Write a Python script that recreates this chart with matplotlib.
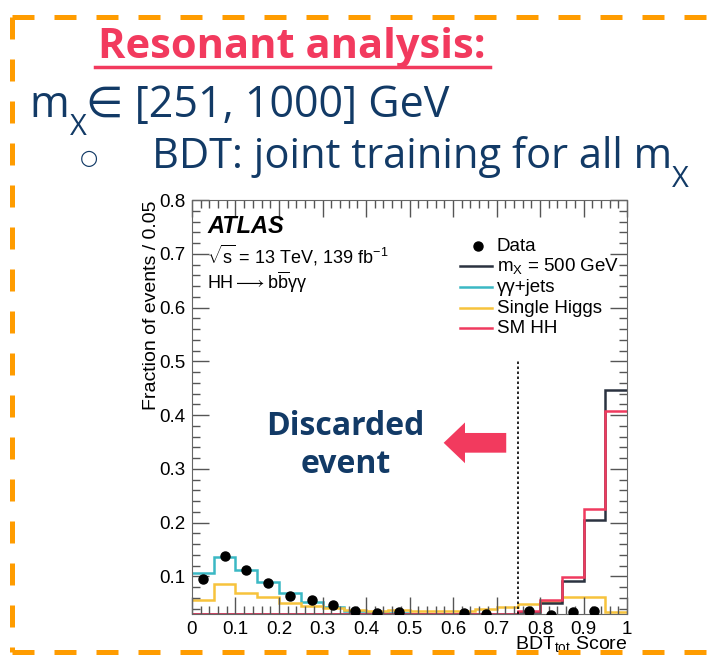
import numpy as np
import matplotlib
matplotlib.use('Agg')
import matplotlib.pyplot as plt
from matplotlib.patches import FancyArrow
from matplotlib.ticker import MultipleLocator

plt.rcParams['mathtext.fontset'] = 'custom'
plt.rcParams['mathtext.rm'] = 'Liberation Sans'
plt.rcParams['mathtext.it'] = 'Liberation Sans:italic'
plt.rcParams['mathtext.bf'] = 'Liberation Sans:bold'

# ---------------- data ----------------
bin_edges = np.round(np.arange(0, 1.0001, 0.05), 2)
bin_centers = bin_edges[:-1] + 0.025

gg_jets = [0.106, 0.137, 0.111, 0.089, 0.070, 0.053, 0.043, 0.036, 0.034, 0.032,
           0.030, 0.029, 0.029, 0.029, 0.029, 0.029, 0.029, 0.029, 0.029, 0.029]
single_h = [0.056, 0.086, 0.069, 0.061, 0.051, 0.045, 0.041, 0.038, 0.036, 0.038,
            0.036, 0.036, 0.036, 0.039, 0.043, 0.048, 0.054, 0.062, 0.061, 0.034]
sm_hh = [0.030, 0.030, 0.030, 0.030, 0.030, 0.030, 0.030, 0.030, 0.030, 0.030,
         0.030, 0.030, 0.030, 0.030, 0.030, 0.036, 0.056, 0.098, 0.225, 0.407]
mx500 = [0.030, 0.030, 0.030, 0.030, 0.030, 0.030, 0.030, 0.030, 0.030, 0.030,
         0.030, 0.030, 0.030, 0.030, 0.030, 0.034, 0.051, 0.092, 0.204, 0.447]
data = [0.096, 0.138, 0.112, 0.087, 0.064, 0.056, 0.047, 0.036, 0.032, 0.034,
        np.nan, np.nan, 0.032, 0.030, np.nan, 0.036, 0.029, 0.033, 0.036, np.nan]

series = [
    ('m$_{\\mathregular{X}}$ = 500 GeV', mx500, '#2b3240'),
    ('γγ+jets', gg_jets, '#3bb8c4'),
    ('Single Higgs', single_h, '#f7c33c'),
    ('SM HH', sm_hh, '#f03a5f'),
]

NAVY = '#123a66'
PINK = '#f23a5e'
ORANGE = '#ff9c00'
ROOTFONT = ['Liberation Sans', 'DejaVu Sans']
SLIDEFONT = ['Open Sans', 'DejaVu Sans']

fig = plt.figure(figsize=(7.11, 6.57), dpi=100)
renderer = fig.canvas.get_renderer()


def chain_text(x, y, pieces, **kw):
    """Draw (text, size, dy) pieces one after another in figure coords."""
    for txt, size, dy in pieces:
        t = fig.text(x, y + dy, txt, fontsize=size, va='baseline', **kw)
        bb = t.get_window_extent(renderer)
        x = fig.transFigure.inverted().transform((bb.x1, bb.y0))[0]
    return x


# ---------------- plot ----------------
ax = fig.add_axes([0.270, 0.0654, 0.612, 0.630])
draw_order = [series[1], series[2], series[0], series[3]]
for label, vals, col in draw_order:
    ax.stairs(vals, bin_edges, color=col, linewidth=1.8, baseline=None)
ax.plot(bin_centers, data, 'o', color='black', markersize=6.5, zorder=5)
ax.plot([0.75, 0.75], [0.03, 0.5], color='black', linestyle=(0, (1.5, 1.5)), linewidth=1.2)

ax.set_xlim(0, 1)
ax.set_ylim(0.03, 0.8)
ax.xaxis.set_minor_locator(MultipleLocator(0.02))
ax.yaxis.set_minor_locator(MultipleLocator(0.02))
ax.tick_params(which='both', direction='in', top=True, right=True, width=1, color='#555555')
ax.tick_params(which='major', length=12, labelsize=13.5, pad=5)
ax.tick_params(which='minor', length=6)
ax.set_xticks(np.round(np.arange(0, 1.01, 0.1), 1))
ax.set_xticklabels(['0', '0.1', '0.2', '0.3', '0.4', '0.5', '0.6', '0.7', '0.8', '0.9', '1'],
                   family=ROOTFONT)
ax.set_yticks(np.round(np.arange(0.1, 0.81, 0.1), 1))
ax.set_yticklabels(['0.1', '0.2', '0.3', '0.4', '0.5', '0.6', '0.7', '0.8'], family=ROOTFONT)
for s in ax.spines.values():
    s.set_color('#666666')

ax.set_ylabel('Fraction of events / 0.05', family=ROOTFONT, fontsize=14,
              loc='top', labelpad=-1)
ax.set_xlabel('BDT$_{\\mathregular{tot}}$ Score', family=ROOTFONT, fontsize=14,
              loc='right', labelpad=-3)

ax.text(0.035, 0.937, 'ATLAS', transform=ax.transAxes, family=ROOTFONT,
        fontsize=17, fontweight='bold', style='italic', va='center')
ax.text(0.035, 0.867, '$\\sqrt{\\mathregular{s}}$ = 13 TeV, 139 fb$^{\\mathregular{-1}}$',
        transform=ax.transAxes, family=ROOTFONT, fontsize=13, va='center')
ax.text(0.035, 0.802, 'HH$\\longrightarrow$b$\\overline{\\mathregular{b}}$γγ',
        transform=ax.transAxes, family=ROOTFONT, fontsize=13, va='center')

# legend, drawn by hand like the ROOT one
leg_y = [0.888, 0.841, 0.790, 0.739, 0.691]
ax.plot(0.657, leg_y[0], 'o', color='black', markersize=6.5, transform=ax.transAxes)
ax.text(0.70, leg_y[0], 'Data', transform=ax.transAxes, family=ROOTFONT,
        fontsize=13.5, va='center')
for (label, vals, col), y in zip(series, leg_y[1:]):
    ax.plot([0.617, 0.69], [y, y], color=col, linewidth=1.8, transform=ax.transAxes)
    ax.text(0.70, y, label, transform=ax.transAxes, family=ROOTFONT,
            fontsize=13.5, va='center')

# ---------------- slide overlay ----------------
fig.text(0.411, 0.927, 'Resonant analysis:', family=SLIDEFONT, fontsize=30,
         fontweight='bold', color=PINK, ha='center', va='center')
fig.add_artist(plt.Line2D([0.134, 0.689], [0.898, 0.898], color=PINK, linewidth=2.5))

chain_text(0.042, 0.822, [('m', 31, 0), ('X', 21, -0.028), ('∈ [251, 1000] GeV', 31, 0)],
           family=SLIDEFONT, color=NAVY)
fig.text(0.112, 0.760, '○', family='DejaVu Sans', fontsize=15, color=NAVY, va='center')
chain_text(0.214, 0.744, [('BDT: joint training for all m', 30, 0), ('X', 21, -0.028)],
           family=SLIDEFONT, color=NAVY)

fig.text(0.486, 0.322, 'Discarded\nevent', family=SLIDEFONT, fontsize=23,
         fontweight='bold', color=NAVY, ha='center', va='center', linespacing=1.2)
fig.add_artist(FancyArrow(0.712, 0.326, -0.088, 0, width=0.030, head_width=0.062,
                          head_length=0.030, length_includes_head=True,
                          transform=fig.transFigure, color=PINK, linewidth=0))

# orange dashed frame
dash = dict(color=ORANGE, linewidth=3.6, linestyle=(0, (4.4, 4.0)), solid_capstyle='butt')
fig.add_artist(plt.Line2D([0.017, 1.0], [0.974, 0.974], **dash))
fig.add_artist(plt.Line2D([0.017, 0.017], [0.974, 0.007], **dash))
fig.add_artist(plt.Line2D([0.017, 1.0], [0.007, 0.007], **dash))

fig.savefig('out.png', dpi=100)
